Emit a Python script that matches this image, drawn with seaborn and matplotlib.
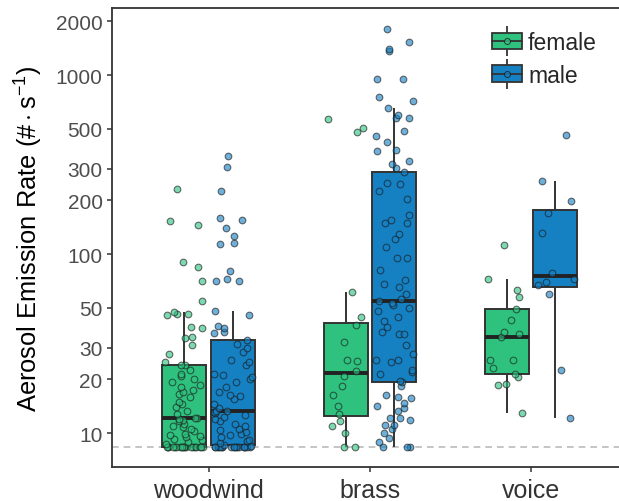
import numpy as np
import pandas as pd
import matplotlib
matplotlib.use("Agg")
import matplotlib.pyplot as plt
import matplotlib.transforms as mtransforms
from matplotlib.lines import Line2D
from matplotlib.patches import Patch
from matplotlib.legend_handler import HandlerTuple
from matplotlib.ticker import NullLocator
import seaborn as sns

instruments = ["woodwind", "brass", "voice"]
sexes = ["female", "male"]
palette = {"female": "#2EC27E", "male": "#1580C2"}
floor_value = 8.4
y_ticks = [10, 20, 30, 50, 100, 200, 300, 500, 1000, 2000]

# values (#/s)
woodwind_female = [8.4] * 19 + [
    8.7, 8.9, 9.1, 9.3, 9.5, 9.6, 9.8, 9.9, 10.2, 10.5, 10.8, 11.0, 11.3, 11.6, 11.8, 12.0,
    12.2, 12.2,
    12.8, 13.3, 13.9, 14.5, 15.0, 15.8, 16.5, 17.0, 17.4, 18.0, 18.6, 19.3, 20.0, 20.8, 21.5, 22.6, 24.0,
    24.1,
    24.8, 27.7, 31.0, 33.8, 34.6, 38.8, 38.9, 45.5, 46.0, 46.5, 47.5,
    55, 71, 84.3, 90.6, 146, 152, 231]

woodwind_male = [8.4] * 18 + [
    8.5, 8.6,
    8.8, 9.0, 9.2, 9.5, 9.7, 9.9, 10.1, 10.4, 10.6, 10.9, 11.2, 11.6, 12.0, 12.3, 12.6, 12.9, 13.1, 13.2,
    13.3,
    13.8, 14.5, 15.5, 16.0, 16.4, 17.0, 18.0, 19.2, 20.0, 20.5, 21.0, 21.5, 24.0, 25.0, 25.6, 28.5, 30.0, 31.5,
    33.2,
    36.3, 36.5, 38.8, 39.7, 45.5, 48.0,
    70.5, 71, 72.3, 80.4, 114, 115, 126, 139, 155, 160, 226, 307, 354]

brass_female = [8.4, 8.4, 10.0, 11.0, 11.6, 12.7, 14.2, 16.3, 18.2, 20.9, 22.2, 25.4, 25.6,
                32.4, 40.0, 44.7, 61, 482, 508, 566]

brass_male = [
    8.4, 8.4, 8.4, 8.9, 9.4, 10.0, 10.5, 11.1, 11.1, 11.8, 12.2, 12.2, 13.3, 13.8, 14.2, 14.8,
    15.6, 15.9, 16.4, 18.3,
    19.3,
    19.5, 21.3, 21.8, 22.5, 24.9, 25.5, 25.5, 27.8, 31.0, 35.6, 35.6, 36.6, 39.3, 42.4, 44.7,
    48.0, 50.0, 52.0, 53.0,
    54.5,
    56, 59.6, 65.6, 68, 72, 81.5, 95, 95, 109, 122, 129, 149, 149, 154, 166, 202, 224, 245, 250,
    287,
    302, 319, 330, 376, 381, 421, 458, 486, 577, 577, 600, 651,
    718, 757, 950, 950, 1357, 1397, 1524, 1815]

voice_female = [13.0, 18.5, 18.9, 20.6, 21.4, 23.2, 25.5, 25.5, 34.3, 35.7, 36.6, 42.6,
                49.4, 57.7, 63, 72.8, 112]

voice_male = [12.2, 22.5, 60, 67, 70, 73, 78.3, 130.5, 169.6, 199, 255, 462]

groups = {
    ("woodwind", "female"): woodwind_female,
    ("woodwind", "male"): woodwind_male,
    ("brass", "female"): brass_female,
    ("brass", "male"): brass_male,
    ("voice", "female"): voice_female,
    ("voice", "male"): voice_male,
}
rows = []
for (inst, sex), vals in groups.items():
    for v in vals:
        rows.append({"instrument": inst, "sex": sex, "rate": v})
df = pd.DataFrame(rows)

sns.set_theme(style="white")
plt.rcParams["font.family"] = ["Liberation Sans", "DejaVu Sans"]
plt.rcParams["mathtext.fontset"] = "custom"
plt.rcParams["mathtext.rm"] = "Liberation Sans"
plt.rcParams["mathtext.it"] = "Liberation Sans:italic"

fig = plt.figure(figsize=(6.19, 5.02), dpi=100)
W, H = 619, 502
ax = fig.add_axes([111.7 / W, (H - 468) / H, (628 - 111.7) / W, (468 - 9.3) / H])

ax.axhline(floor_value, color="#BBBBBB", ls=(0, (4, 3)), lw=1.2, zorder=0)

sns.boxplot(data=df, x="instrument", y="rate", hue="sex", order=instruments,
            hue_order=sexes, palette=palette, saturation=1, width=0.6, gap=0.09,
            whis=1.5, showfliers=False, showcaps=False, linecolor="#333333",
            linewidth=1.4, medianprops={"linewidth": 2.8, "color": "#222222"},
            legend=False, ax=ax)

np.random.seed(7)
for sex, shift in zip(sexes, [-0.15, 0.15]):
    sub = df[df.sex == sex]
    n_before = len(ax.collections)
    sns.stripplot(data=sub, x="instrument", y="rate", order=instruments,
                  color=palette[sex], jitter=0.12, size=4.8, alpha=0.62,
                  edgecolor="#1a1a1a", linewidth=0.8, zorder=3, ax=ax)
    for coll in ax.collections[n_before:]:
        coll.set_offset_transform(mtransforms.Affine2D().translate(shift, 0) + ax.transData)

ax.set_yscale("log")
ax.set_ylim(6.46, 2360)
ax.set_xlim(-0.6, 2.6)
ax.set_yticks(y_ticks)
ax.set_yticklabels([str(t) for t in y_ticks])
ax.yaxis.set_minor_locator(NullLocator())

ax.set_xlabel("")
ax.set_ylabel(r"Aerosol Emission Rate ($\#\cdot\mathrm{s}^{-1}$)", fontsize=18.4,
              color="black", labelpad=8)
ax.tick_params(axis="y", labelsize=15, colors="#333333", labelcolor="#4D4D4D",
               length=3.6, width=1.1, pad=3, left=True)
ax.tick_params(axis="x", labelsize=18, colors="#333333", labelcolor="#333333",
               length=3.6, width=1.1, pad=4, bottom=True)
for side in ["left", "top", "bottom"]:
    ax.spines[side].set_color("#333333")
    ax.spines[side].set_linewidth(1.3)
ax.spines["right"].set_visible(False)

handles = []
for sex in sexes:
    whisk = Line2D([], [], color="#333333", marker="|", markersize=21,
                   markeredgewidth=1.3, linestyle="None")
    box = Patch(facecolor=palette[sex], edgecolor="#333333", linewidth=1.3)
    med = Line2D([], [], color="#333333", linewidth=1.3)
    pt = Line2D([], [], marker="o", markerfacecolor=palette[sex],
                markeredgecolor="#1a1a1a", markeredgewidth=0.7, markersize=4.3,
                linestyle="None", alpha=0.8)
    handles.append((whisk, box, med, pt))

fig.legend(handles, sexes, loc="upper left", bbox_to_anchor=(492 / W, 1 - 32 / H),
           frameon=False, fontsize=16.5, handlelength=1.31, handleheight=0.73,
           handletextpad=0.26, labelspacing=0.42, borderpad=0, borderaxespad=0,
           numpoints=1, handler_map={tuple: HandlerTuple(ndivide=1, pad=0)})

fig.savefig("out.png", dpi=100)
